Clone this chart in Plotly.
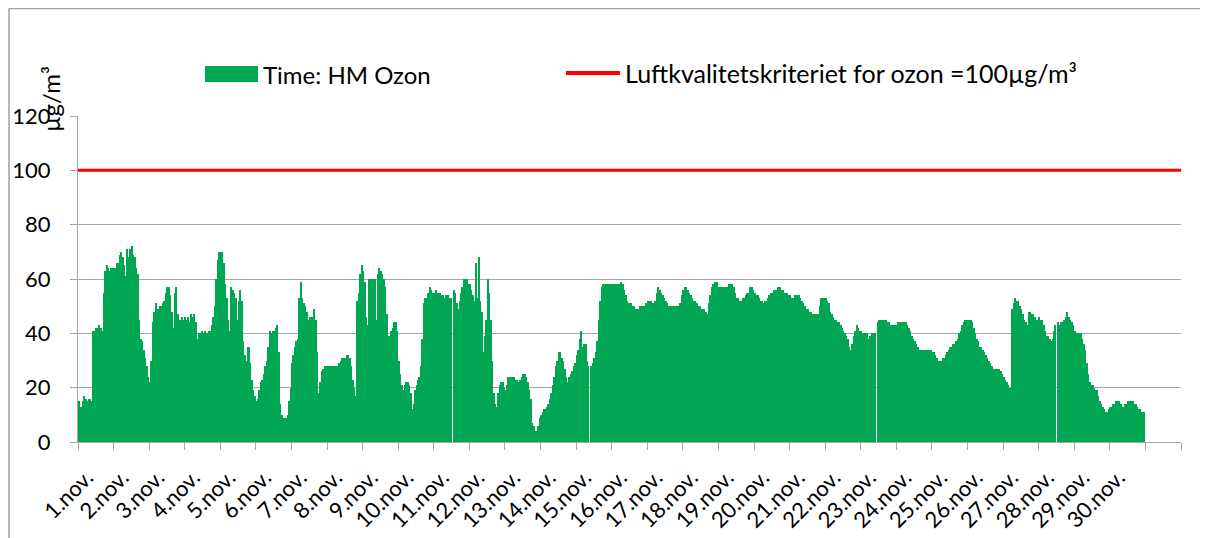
import plotly.graph_objects as go

# ---------------- data (hourly ozone, µg/m³) ----------------
nov01 = [15,13,13,15,17,16,15,16,16,15,41,41,42,42,43,42,41,55,63,65,64,63,64,64]
nov02 = [64,64,66,66,69,70,68,65,61,71,68,71,72,69,68,64,62,45,38,37,34,31,28,24]
nov03 = [22,30,44,48,51,49,49,50,50,51,52,55,57,57,54,48,42,55,57,47,45,45,46,45]
nov04 = [46,45,46,44,47,46,47,44,38,40,40,41,40,41,40,40,41,41,43,46,50,60,67,70]
nov05 = [70,70,66,58,53,45,41,57,56,55,53,45,52,56,52,37,32,30,35,35,29,23,19,17]
nov06 = [15,16,19,22,23,25,28,30,35,41,40,41,41,42,43,33,14,10,9,9,9,10,15,20]
nov07 = [29,32,35,37,38,53,59,53,51,50,48,45,46,46,46,49,45,33,18,22,26,27,28,28]
nov08 = [28,28,28,28,28,28,28,28,29,30,31,31,31,32,32,31,28,23,20,17,52,55,62,65]
nov09 = [63,59,46,43,60,60,60,60,60,45,62,64,63,62,60,57,47,39,39,41,42,44,44,41]
nov10 = [30,25,21,19,21,22,22,21,18,12,14,19,21,23,24,28,38,51,53,53,55,57,56,55]
nov11 = [55,56,55,55,55,54,54,53,54,54,53,53,None,56,55,51,49,52,55,57,60,60,60,58]
nov12 = [58,56,54,52,66,53,68,52,48,33,39,45,60,55,45,30,18,14,13,18,21,22,22,20]
nov13 = [19,21,24,24,24,24,24,23,23,22,23,24,25,25,24,22,19,16,7,6,4,4,6,9]
nov14 = [10,11,12,12,13,14,16,18,21,24,28,30,33,33,31,30,27,24,22,24,25,26,28,29]
nov15 = [32,34,38,41,35,36,36,30,28,None,28,29,31,33,37,45,52,57,58,58,58,58,58,58]
nov16 = [58,58,58,58,58,58,59,58,56,54,52,51,51,51,50,50,49,49,49,50,50,50,50,51]
nov17 = [52,52,52,51,51,52,55,57,56,55,54,53,52,51,50,50,50,50,50,50,50,50,51,54]
nov18 = [56,57,57,56,55,54,53,52,52,51,50,50,49,49,49,48,47,51,54,57,58,59,59,59]
nov19 = [57,57,57,57,57,57,57,58,58,58,57,55,53,53,52,52,53,53,54,55,55,57,57,56]
nov20 = [55,54,54,53,52,52,51,52,52,53,54,55,55,56,56,56,57,57,56,56,55,55,55,54]
nov21 = [54,53,53,54,54,54,54,53,52,51,50,49,49,48,48,47,47,47,47,47,50,53,53,53]
nov22 = [53,52,51,48,47,46,45,45,44,44,43,42,41,40,39,38,35,34,36,39,41,43,42,41]
nov23 = [41,40,40,40,40,38,39,40,40,40,None,44,45,45,45,45,45,45,44,44,43,43,43,43]
nov24 = [43,44,44,44,44,44,44,43,42,41,39,38,37,36,35,34,34,34,34,34,34,34,34,34]
nov25 = [33,33,32,31,30,30,30,31,31,32,33,34,35,35,36,36,37,38,40,41,43,44,45,45]
nov26 = [45,45,45,44,42,40,38,37,35,35,34,33,32,31,30,29,28,27,27,27,27,27,26,25]
nov27 = [24,23,22,21,20,19,49,51,53,52,52,50,49,47,45,44,43,48,48,47,47,46,45,45]
nov28 = [46,45,45,43,41,39,39,38,37,38,41,43,None,44,43,44,44,45,46,48,46,45,44,43]
nov29 = [41,40,40,40,40,38,36,34,29,25,22,21,21,20,19,19,17,15,14,13,12,11,11,12]
nov30 = [13,13,14,14,15,15,15,14,13,13,14,14,15,15,15,15,14,14,13,12,12,11,11,11]

day_labels = [f"{d}.nov." for d in range(1, 31)]
threshold = 100
series_name = "Time: HM Ozon"
line_name = "Luftkvalitetskriteriet for ozon =100µg/m³"
y_title = "µg/m³"

days = [nov01, nov02, nov03, nov04, nov05, nov06, nov07, nov08, nov09, nov10,
        nov11, nov12, nov13, nov14, nov15, nov16, nov17, nov18, nov19, nov20,
        nov21, nov22, nov23, nov24, nov25, nov26, nov27, nov28, nov29, nov30]

values = [v for day in days for v in day]
hours_per_day = 24
n_slots = (len(days) + 1) * hours_per_day   # category axis has one extra empty day
x_pos = [i + 0.5 for i in range(len(values))]

# ---------------- layout geometry ----------------
# page body has an 8px margin, so work in window pixels and subtract it
OFF = 8
W, H = 1208 - 2 * OFF, 538 - OFF
L, R, T, B = 78 - OFF, 1181 - OFF, 116 - OFF, 442 - OFF
pw, ph = R - L, B - T
def px(x_abs):
    return (x_abs - OFF - L) / pw
def py(y_abs):
    return (B - (y_abs - OFF)) / ph

GREEN = "#00A651"
RED = "#FF0000"
GRID = "#A6A6A6"
FONT = "Lato, 'Open Sans', sans-serif"
label_shift = 6  # hours; places rotated day labels like the original

fig = go.Figure()
fig.add_trace(go.Bar(
    x=x_pos, y=values, width=1.0, name=series_name,
    marker=dict(color=GREEN, line=dict(width=0)),
    showlegend=False,
))
fig.add_trace(go.Scatter(
    x=[0, n_slots], y=[threshold, threshold], mode="lines", name=line_name,
    line=dict(color=RED, width=3), showlegend=False,
))

fig.update_layout(
    width=W, height=H,
    margin=dict(l=L, r=W - R, t=T, b=H - B, autoexpand=False),
    paper_bgcolor="white", plot_bgcolor="white",
    bargap=0,
    font=dict(family=FONT, size=22, color="black"),
    xaxis=dict(
        automargin=False,
        range=[0, n_slots],
        tickmode="array",
        tickvals=[d * hours_per_day + hours_per_day / 2 - label_shift for d in range(len(days))],
        ticktext=day_labels,
        tickangle=-45,
        ticks="",
        ticklabelstandoff=13,
        showgrid=False,
        showline=True, linecolor=GRID, linewidth=1,
        zeroline=False,
        minor=dict(
            tickmode="array",
            tickvals=list(range(0, n_slots + 1, hours_per_day)),
            ticks="outside", ticklen=7, tickcolor=GRID, tickwidth=1,
            showgrid=False,
        ),
        tickfont=dict(family=FONT, size=22),
    ),
    yaxis=dict(
        automargin=False,
        range=[0, 120], dtick=20, tick0=0,
        ticks="outside", ticklen=7, tickcolor=GRID,
        showgrid=True, gridcolor=GRID, gridwidth=1,
        showline=True, linecolor=GRID, linewidth=1,
        zeroline=False,
        ticklabelstandoff=15,
        tickfont=dict(family=FONT, size=22),
    ),
    shapes=[
        # chart frame (left and top edges)
        dict(type="line", xref="paper", yref="paper",
             x0=px(9), x1=px(9), y0=py(8.5), y1=py(545),
             line=dict(color="#A0A0A0", width=1.5)),
        dict(type="line", xref="paper", yref="paper",
             x0=px(9), x1=px(1215), y0=py(8.5), y1=py(8.5),
             line=dict(color="#A0A0A0", width=1.5)),
        # legend symbols
        dict(type="rect", xref="paper", yref="paper",
             x0=px(205), x1=px(258), y0=py(82), y1=py(66),
             fillcolor=GREEN, line=dict(width=0)),
        dict(type="line", xref="paper", yref="paper",
             x0=px(566), x1=px(620), y0=py(73), y1=py(73),
             line=dict(color=RED, width=4)),
    ],
    annotations=[
        dict(text=series_name, xref="paper", yref="paper",
             x=px(261), y=py(74), xanchor="left", yanchor="middle",
             showarrow=False, font=dict(family=FONT, size=24)),
        dict(text=line_name, xref="paper", yref="paper",
             x=px(623), y=py(73), xanchor="left", yanchor="middle",
             showarrow=False, font=dict(family=FONT, size=25)),
        dict(text=y_title, xref="paper", yref="paper",
             x=px(50), y=py(99), xanchor="center", yanchor="middle",
             textangle=-90, showarrow=False, font=dict(family=FONT, size=24)),
    ],
)

fig.write_html("out.html", config={"displayModeBar": False})
